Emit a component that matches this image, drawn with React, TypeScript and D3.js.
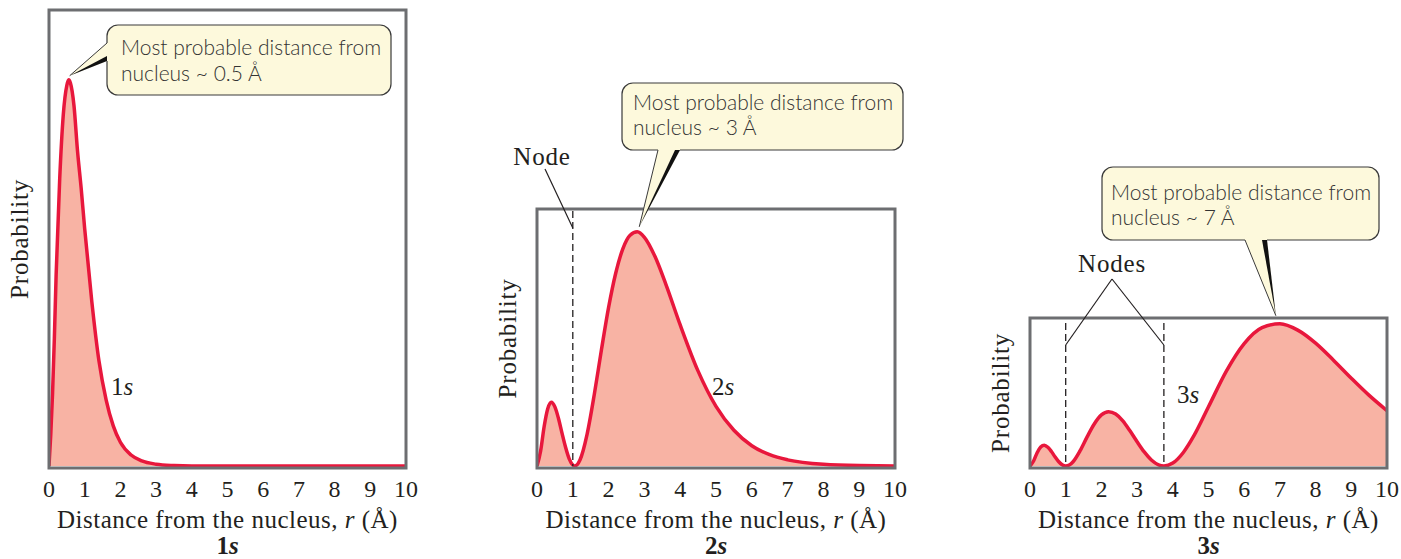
import React from 'react';
import * as d3 from 'd3';

// ---------- data ----------
const xTicks = [0, 1, 2, 3, 4, 5, 6, 7, 8, 9, 10];

// 1s radial probability (relative to panel height)
const r1s = [0, 0.05, 0.1, 0.15, 0.2, 0.3, 0.4, 0.5, 0.55, 0.6, 0.7, 0.8, 0.9, 1.0, 1.2, 1.4, 1.6, 1.8, 2.0, 2.3, 2.6, 3.0, 3.5, 4.0, 5.0, 10];
const p1s = [0, 0.07, 0.16, 0.28, 0.42, 0.63, 0.77, 0.835, 0.847, 0.84, 0.79, 0.69, 0.61, 0.52, 0.36, 0.23, 0.145, 0.088, 0.052, 0.024, 0.011, 0.004, 0.001, 0, 0, 0];

// 2s radial probability
const r2s = [0, 0.1, 0.2, 0.3, 0.4, 0.5, 0.6, 0.7, 0.8, 0.9, 1.0, 1.06, 1.2, 1.4, 1.6, 1.8, 2.0, 2.2, 2.4, 2.6, 2.8, 3.0, 3.3, 3.6, 4.0, 4.5, 5.0, 5.5, 6.0, 6.5, 7.0, 8.0, 9.0, 10];
const p2s = [0, 0.058, 0.154, 0.223, 0.248, 0.23, 0.185, 0.127, 0.072, 0.028, 0.004, 0, 0.023, 0.124, 0.278, 0.452, 0.617, 0.751, 0.846, 0.898, 0.911, 0.89, 0.814, 0.707, 0.549, 0.369, 0.232, 0.139, 0.079, 0.044, 0.024, 0.0064, 0.0015, 0.0003];

// 3s radial probability
const r3s = [0, 0.1, 0.2, 0.3, 0.4, 0.5, 0.6, 0.7, 0.8, 0.9, 1.0, 1.1, 1.2, 1.4, 1.6, 1.8, 2.0, 2.2, 2.4, 2.6, 2.8, 3.0, 3.2, 3.4, 3.6, 3.75, 4.0, 4.3, 4.6, 5.0, 5.5, 6.0, 6.5, 7.0, 7.5, 8.0, 8.5, 9.0, 9.5, 10];
const p3s = [0, 0.034, 0.09, 0.129, 0.141, 0.127, 0.098, 0.0625, 0.0305, 0.0084, 0, 0.0066, 0.027, 0.102, 0.197, 0.284, 0.345, 0.367, 0.351, 0.305, 0.2375, 0.164, 0.095, 0.0405, 0.0079, 0, 0.0196, 0.093, 0.208, 0.4, 0.641, 0.827, 0.935, 0.961, 0.918, 0.83, 0.715, 0.593, 0.477, 0.374];

const orbitalNames = ['1', '2', '3'];
const nodes2 = [1.0];
const nodes3 = [1.0, 3.75];
const peakR = [0.55, 2.8, 7.0];
const peakP = [0.847, 0.911, 0.961];
const calloutValues = ['0.5', '3', '7'];
const axisTitle = 'Distance from the nucleus, ';
const yTitle = 'Probability';

// ---------- layout ----------
const W = 1401;
const H = 559;
const panels = [
  { left: 49, right: 406, top: 10, bottom: 468 },
  { left: 537, right: 895, top: 209, bottom: 468 },
  { left: 1030, right: 1387, top: 318, bottom: 468 },
];
const series = [
  { r: r1s, p: p1s },
  { r: r2s, p: p2s },
  { r: r3s, p: p3s },
];
const curveLabelPos = [
  { x: 111, y: 395 },
  { x: 712, y: 395 },
  { x: 1177, y: 403 },
];
// callout boxes
const callouts = [
  { x: 107, y: 25, w: 284, h: 70, tx: 121, ty1: 55, ty2: 81, side: 'left', a: [107, 43], b: [107, 61], dx: 1, dy: -4 },
  { x: 622, y: 83, w: 281, h: 67, tx: 633, ty1: 110, ty2: 135, side: 'bottom', a: [658, 150], b: [680, 150], dx: 2, dy: -5 },
  { x: 1102, y: 167, w: 277, h: 73, tx: 1111, ty1: 200, ty2: 225, side: 'bottom', a: [1245, 240], b: [1267, 240], dx: -4, dy: -8 },
];

const SERIF = '"Liberation Serif", "DejaVu Serif", serif';
const SANS = 'Lato, "Open Sans", sans-serif';
const BOX = '#6d6e71';
const RED = '#e8173c';
const FILL = '#f8b3a4';
const YELLOW = '#fdf9dc';
const INK = '#231f20';
const FS = 25;

export default function App() {
  const scales = panels.map((pn) => ({
    x: d3.scaleLinear().domain([0, 10]).range([pn.left, pn.right]),
    y: d3.scaleLinear().domain([0, 1]).range([pn.bottom - 2, pn.top]),
  }));

  return (
    <svg width={W} height={H} style={{ position: 'absolute', left: 0, top: 0, background: '#fff' }}>
      <defs>
        {panels.map((pn, i) => (
          <clipPath id={`clip${i}`} key={i}>
            <rect x={pn.left} y={pn.top} width={pn.right - pn.left} height={pn.bottom - pn.top} />
          </clipPath>
        ))}
      </defs>
      {panels.map((pn, i) => {
        const { x, y } = scales[i];
        const s = series[i];
        const pts: [number, number][] = s.r.map((rv, k) => [rv, s.p[k]]);
        const area = d3
          .area<[number, number]>()
          .x((d) => x(d[0]))
          .y0(y(0))
          .y1((d) => y(d[1]))
          .curve(d3.curveMonotoneX);
        const line = d3
          .line<[number, number]>()
          .x((d) => x(d[0]))
          .y((d) => y(d[1]))
          .curve(d3.curveMonotoneX);
        const cx = (pn.left + pn.right) / 2;
        return (
          <g key={i}>
            <g clipPath={`url(#clip${i})`}>
              <path d={area(pts) || ''} fill={FILL} />
              <path d={line(pts) || ''} fill="none" stroke={RED} strokeWidth={3.5} strokeLinejoin="round" />
            </g>
            <rect
              x={pn.left}
              y={pn.top}
              width={pn.right - pn.left}
              height={pn.bottom - pn.top}
              fill="none"
              stroke={BOX}
              strokeWidth={3}
            />
            {xTicks.map((t) => (
              <text key={t} x={x(t)} y={497} textAnchor="middle" fontFamily={SERIF} fontSize={24} fill={INK}>
                {t}
              </text>
            ))}
            <text x={cx} y={528} textAnchor="middle" fontFamily={SERIF} fontSize={FS} fill={INK} letterSpacing={0.5}>
              {axisTitle}
              <tspan fontStyle="italic">r</tspan> (Å)
            </text>
            <text x={cx} y={554} textAnchor="middle" fontFamily={SERIF} fontSize={FS} fontWeight="bold" fill={INK}>
              {orbitalNames[i]}
              <tspan fontStyle="italic">s</tspan>
            </text>
            <text
              transform={`translate(${pn.left - 21},${(pn.top + pn.bottom) / 2}) rotate(-90)`}
              textAnchor="middle"
              fontFamily={SERIF}
              fontSize={FS}
              fill={INK}
              letterSpacing={0.8}
            >
              {yTitle}
            </text>
            <text x={curveLabelPos[i].x} y={curveLabelPos[i].y} fontFamily={SERIF} fontSize={FS} fill={INK}>
              {orbitalNames[i]}
              <tspan fontStyle="italic">s</tspan>
            </text>
          </g>
        );
      })}

      {/* node dashed lines */}
      {nodes2.map((n, k) => (
        <line
          key={`n2${k}`}
          x1={scales[1].x(n)}
          x2={scales[1].x(n)}
          y1={panels[1].top + 2}
          y2={panels[1].bottom - 2}
          stroke={INK}
          strokeWidth={1.3}
          strokeDasharray="7 4"
        />
      ))}
      {nodes3.map((n, k) => (
        <line
          key={`n3${k}`}
          x1={scales[2].x(n)}
          x2={scales[2].x(n)}
          y1={panels[2].top + 5}
          y2={panels[2].bottom - 2}
          stroke={INK}
          strokeWidth={1.3}
          strokeDasharray="7 4"
        />
      ))}
      <text x={542} y={165} textAnchor="middle" fontFamily={SERIF} fontSize={FS} fill={INK} letterSpacing={0.8}>
        Node
      </text>
      <line x1={545} y1={169} x2={scales[1].x(nodes2[0])} y2={228} stroke={INK} strokeWidth={1.2} />
      <text x={1112} y={272} textAnchor="middle" fontFamily={SERIF} fontSize={FS} fill={INK} letterSpacing={0.8}>
        Nodes
      </text>
      {nodes3.map((n, k) => (
        <line key={`nl${k}`} x1={1112} y1={279} x2={scales[2].x(n)} y2={345} stroke={INK} strokeWidth={1.2} />
      ))}

      {/* callouts */}
      {callouts.map((c, i) => {
        const tx = scales[i].x(peakR[i]) + c.dx;
        const ty = scales[i].y(peakP[i]) + c.dy;
        const [ax, ay] = c.a;
        const [bx, by] = c.b;
        const inA = c.side === 'left' ? [ax + 3, ay] : [ax, ay - 3];
        const inB = c.side === 'left' ? [bx + 3, by] : [bx, by - 3];
        const wedge =
          c.side === 'left'
            ? `${tx},${ty} ${bx},${by - 5} ${bx},${by}`
            : `${tx},${ty} ${bx - 5},${by} ${bx},${by}`;
        return (
          <g key={`c${i}`}>
            <rect x={c.x} y={c.y} width={c.w} height={c.h} rx={11} ry={11} fill={YELLOW} stroke="#3a3a3a" strokeWidth={1.2} />
            <polygon
              points={`${tx},${ty} ${ax},${ay} ${inA[0]},${inA[1]} ${inB[0]},${inB[1]} ${bx},${by}`}
              fill={YELLOW}
            />
            <line x1={tx} y1={ty} x2={ax} y2={ay} stroke="#3a3a3a" strokeWidth={1} />
            <polygon points={wedge} fill="#111" />
            <text x={c.tx} y={c.ty1} fontFamily={SANS} fontWeight={300} fontSize={21} fill="#333">
              Most probable distance from
            </text>
            <text x={c.tx} y={c.ty2} fontFamily={SANS} fontWeight={300} fontSize={21} fill="#333">
              nucleus ~ {calloutValues[i]} Å
            </text>
          </g>
        );
      })}
    </svg>
  );
}
